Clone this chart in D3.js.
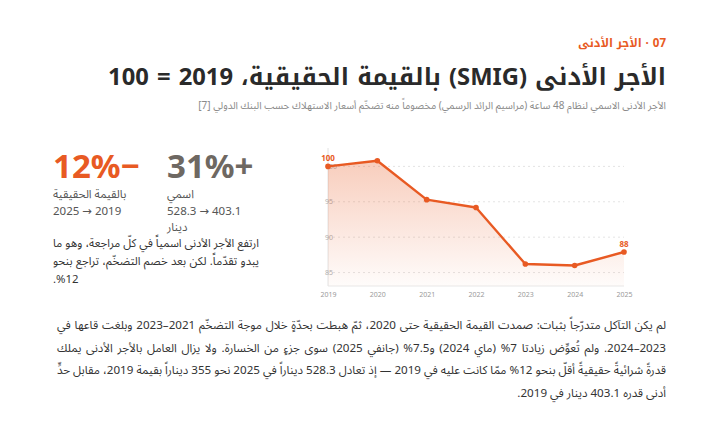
<!DOCTYPE html>
<html lang="ar" dir="rtl">
<head>
<meta charset="utf-8">
<script src="https://cdn.jsdelivr.net/npm/d3@7"></script>
<style>
  html, body { margin: 0; padding: 0; background: #fff; }
  body {
    width: 720px; height: 438px; position: relative; overflow: hidden;
    font-family: "Noto Sans Arabic", "Noto Sans", "DejaVu Sans", sans-serif; color: #333;
  }
  .abs { position: absolute; white-space: nowrap; }
  .kufi { font-family: "Noto Kufi Arabic", "Noto Sans Arabic", "Noto Sans", sans-serif; }
  .kicker { right: 54px; top: 35px; font-size: 12px; line-height: 16px; font-weight: 700; color: #e85a23; }
  .title { right: 54px; top: 63px; font-size: 24px; line-height: 30px; font-weight: 700; color: #2a2a2a; }
  .subtitle { right: 54px; top: 99px; font-size: 10px; line-height: 14px; color: #8a8a8a; }
  .stat { top: 146px; width: 110px; text-align: left; }
  .stat .big { font-family: "Noto Sans", "DejaVu Sans", sans-serif; font-size: 33px; font-weight: 700; line-height: 40px; }
  .stat .lbl { width: 84px; margin-left: 0; margin-right: auto; font-size: 11.5px; color: #555; line-height: 16.5px; white-space: normal; }
  .note { left: 53px; top: 234px; width: 206px; font-size: 12.5px; line-height: 18px; color: #333; }
  .body { left: 57px; top: 315px; width: 609px; font-size: 13px; line-height: 22.5px; color: #333; }
  .ln { white-space: nowrap; }
  .ln span { display: inline-block; }
</style>
</head>
<body>
<script>
// ---- data ----
const years = [2019, 2020, 2021, 2022, 2023, 2024, 2025];
const realIndex = [100, 100.8, 95.3, 94.2, 86.2, 86.0, 87.9];
const yTicks = [85, 90, 95, 100];

const kicker = "07 · الأجر الأدنى";
const title = "الأجر الأدنى (SMIG) بالقيمة الحقيقية، 2019 = 100";
const subtitle = "الأجر الأدنى الاسمي لنظام 48 ساعة (مراسيم الرائد الرسمي) مخصوماً منه تضخّم أسعار الاستهلاك حسب البنك الدولي [7]";

const statValues = ["+31%", "−12%"];
const statLabels = ["اسمي", "بالقيمة الحقيقية"];
const statRanges = ["403.1 → 528.3 دينار", "2019 → 2025"];

const noteLines = [
  "ارتفع الأجر الأدنى اسمياً في كلّ مراجعة، وهو ما",
  "يبدو تقدّماً. لكن بعد خصم التضخّم، تراجع بنحو",
  "\u061C12%."
];

const bodyLines = [
  "لم يكن التآكل متدرّجاً بثبات: صمدت القيمة الحقيقية حتى 2020، ثمّ هبطت بحدّةٍ خلال موجة التضخّم 2021–2023 وبلغت قاعها في",
  "2023–2024. ولم تُعوِّض زيادتا 7% (ماي 2024) و7.5% (جانفي 2025) سوى جزءٍ من الخسارة. ولا يزال العامل بالأجر الأدنى يملك",
  "قدرةً شرائيةً حقيقيةً أقلّ بنحو 12% ممّا كانت عليه في 2019 — إذ تعادل 528.3 ديناراً في 2025 نحو 355 ديناراً بقيمة 2019، مقابل حدٍّ",
  "أدنى قدره 403.1 دينار في 2019."
];

const orange = "#e85a23";
const statColors = ["#6e6862", orange];

const body = d3.select("body");

// scale a one-line text so it spans the width seen in the reference
function fitWidth(sel, target) {
  const w = sel.node().getBoundingClientRect().width;
  const fs = parseFloat(getComputedStyle(sel.node()).fontSize);
  sel.style("font-size", (fs * target / w) + "px");
}

// ---- header ----
const kick = body.append("div").attr("class", "abs kicker kufi").text(kicker);
fitWidth(kick, 88);
const ttl = body.append("div").attr("class", "abs title kufi").text(title);
fitWidth(ttl, 558);
body.append("div").attr("class", "abs subtitle").text(subtitle);

// ---- stats ----
const statLeft = [167, 53];
statValues.forEach((v, i) => {
  const s = body.append("div")
    .attr("class", "abs stat")
    .style("left", statLeft[i] + "px");
  s.append("div").attr("class", "big").style("color", statColors[i]).text(v);
  s.append("div").attr("class", "lbl").text(statLabels[i]);
  s.append("div").attr("class", "lbl").text(statRanges[i]);
});

// lines laid out one by one, justified by hand so they keep the reference breaks
function setLines(cls, lines, boxWidth, lastAlign) {
  const box = body.append("div").attr("class", "abs " + cls);
  const rows = box.selectAll("div")
    .data(lines)
    .join("div")
    .attr("class", "ln")
    .style("text-align", (d, i) => i < lines.length - 1 ? "right" : lastAlign);
  const spans = rows.append("span").text(d => d);

  // shrink the font if a line is too long
  let scale = 1;
  spans.each(function () {
    const w = this.getBoundingClientRect().width;
    scale = Math.min(scale, (boxWidth - 1) / w);
  });
  if (scale < 1) {
    const fs = parseFloat(getComputedStyle(box.node()).fontSize);
    box.style("font-size", (fs * scale) + "px");
  }

  spans.each(function (d, i) {
    if (i === lines.length - 1) return;
    const w = this.getBoundingClientRect().width;
    const gaps = (d.match(/ /g) || []).length;
    if (gaps > 0) d3.select(this).style("word-spacing", ((boxWidth - w) / gaps) + "px");
  });
}

setLines("note", noteLines, 206, "left");
setLines("body", bodyLines, 609, "right");

// ---- chart ----
const width = 360, height = 170;
const margin = { top: 8, right: 36, bottom: 24, left: 28 };
const svg = body.append("svg")
  .attr("class", "abs")
  .style("left", "300px")
  .style("top", "140px")
  .attr("width", width)
  .attr("height", height)
  .attr("direction", "ltr");

const x = d3.scalePoint().domain(years).range([margin.left, width - margin.right]);
const y = d3.scaleLinear().domain([83.1, 102.6]).range([height - margin.bottom, margin.top]);

const defs = svg.append("defs");
const grad = defs.append("linearGradient")
  .attr("id", "fade").attr("x1", 0).attr("y1", 0).attr("x2", 0).attr("y2", 1);
grad.append("stop").attr("offset", "0%").attr("stop-color", orange).attr("stop-opacity", 0.3);
grad.append("stop").attr("offset", "100%").attr("stop-color", orange).attr("stop-opacity", 0.02);

// gridlines
svg.append("g")
  .selectAll("line")
  .data(yTicks)
  .join("line")
  .attr("x1", x(years[0])).attr("x2", x(years[years.length - 1]))
  .attr("y1", d => y(d)).attr("y2", d => y(d))
  .attr("stroke", "#e4e4e4")
  .attr("stroke-dasharray", "2,3");

// axes lines
svg.append("line")
  .attr("x1", x(years[0])).attr("x2", x(years[0]))
  .attr("y1", y.range()[1]).attr("y2", y.range()[0])
  .attr("stroke", "#e2e2e2");
svg.append("line")
  .attr("x1", x(years[0])).attr("x2", x(years[years.length - 1]))
  .attr("y1", y.range()[0]).attr("y2", y.range()[0])
  .attr("stroke", "#e8e8e8");

// y tick labels
svg.append("g")
  .selectAll("text")
  .data(yTicks)
  .join("text")
  .attr("x", x(years[0]) - 3)
  .attr("y", d => y(d) + 2.5)
  .attr("font-size", 7)
  .attr("fill", "#b0b0b0")
  .text(d => d);

// x axis
const xAxis = svg.append("g")
  .attr("transform", `translate(0, ${y.range()[0]})`)
  .call(d3.axisBottom(x).tickSize(0).tickPadding(6));
xAxis.select(".domain").remove();
xAxis.selectAll("text")
  .attr("font-size", 7)
  .attr("font-family", "Noto Sans, DejaVu Sans, sans-serif")
  .attr("fill", "#9a9a9a");

const pts = years.map((yr, i) => ({ yr, v: realIndex[i] }));

svg.append("path")
  .datum(pts)
  .attr("fill", "url(#fade)")
  .attr("d", d3.area().x(d => x(d.yr)).y0(y.range()[0]).y1(d => y(d.v)));

svg.append("path")
  .datum(pts)
  .attr("fill", "none")
  .attr("stroke", orange)
  .attr("stroke-width", 2.4)
  .attr("stroke-linejoin", "round")
  .attr("d", d3.line().x(d => x(d.yr)).y(d => y(d.v)));

svg.append("g")
  .selectAll("circle")
  .data(pts)
  .join("circle")
  .attr("cx", d => x(d.yr))
  .attr("cy", d => y(d.v))
  .attr("r", 2.8)
  .attr("fill", orange);

// end labels
svg.append("g")
  .selectAll("text")
  .data([pts[0], pts[pts.length - 1]])
  .join("text")
  .attr("x", d => x(d.yr))
  .attr("y", d => y(d.v) - 5)
  .attr("text-anchor", "middle")
  .attr("font-size", 8)
  .attr("font-weight", 700)
  .attr("fill", orange)
  .text(d => d3.format(".0f")(d.v));
</script>
</body>
</html>
